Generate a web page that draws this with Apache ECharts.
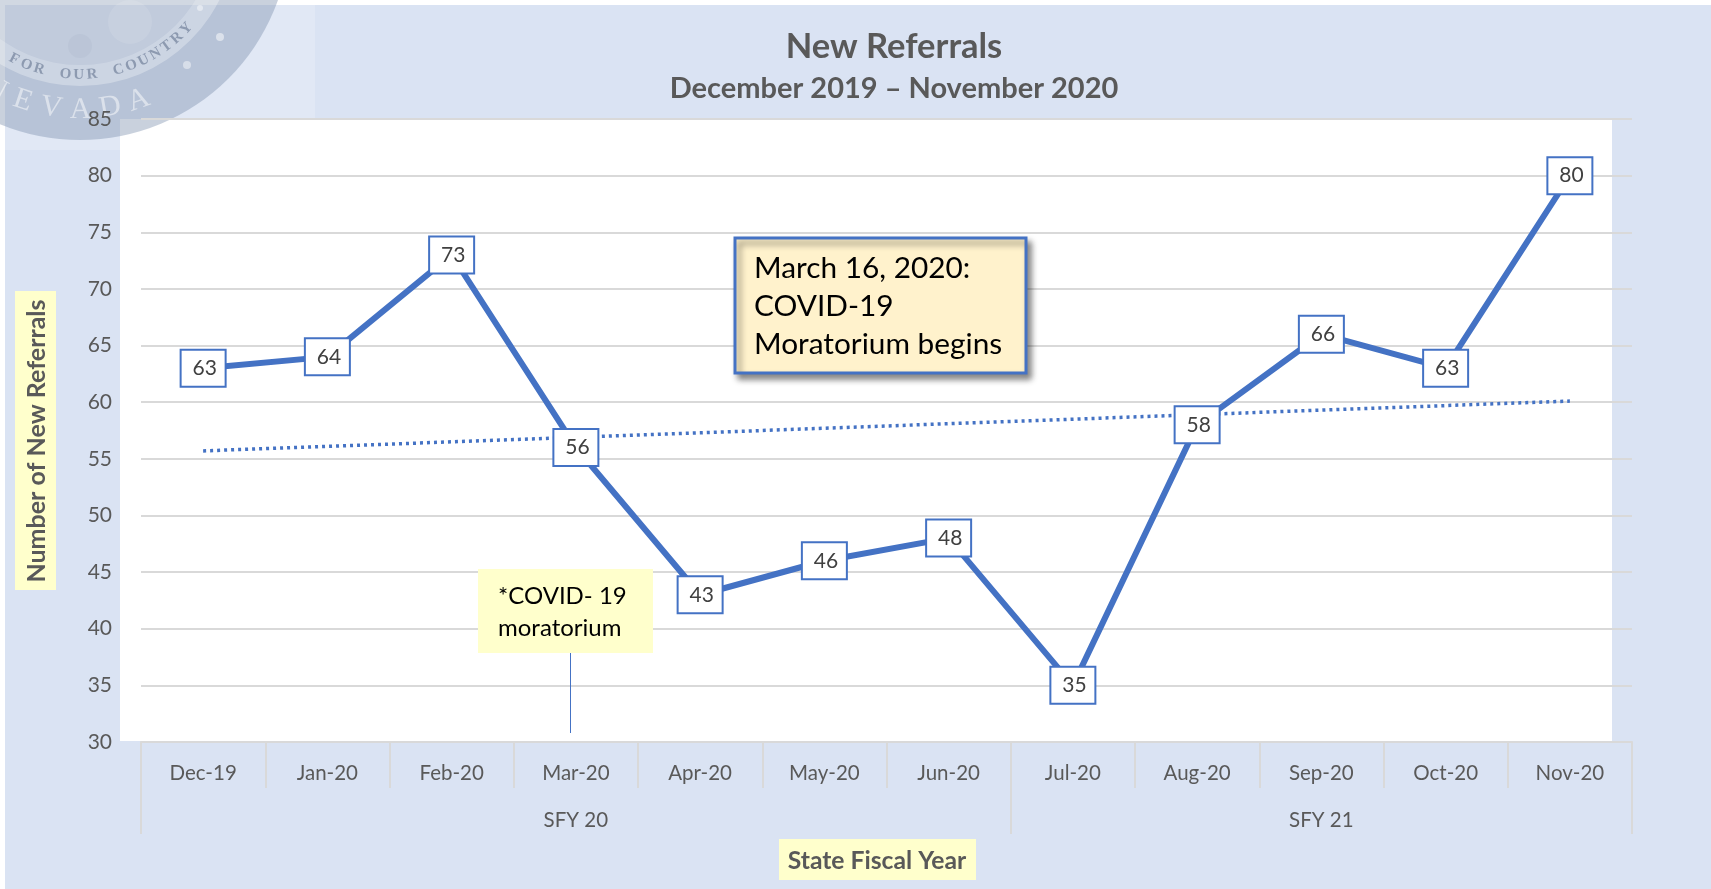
<!DOCTYPE html>
<html>
<head>
<meta charset="utf-8">
<title>New Referrals</title>
<script src="https://cdn.jsdelivr.net/npm/echarts@6/dist/echarts.min.js"></script>
<style>
  html, body { margin: 0; padding: 0; background: #fff; }
  #chart { width: 1711px; height: 889px; }
</style>
</head>
<body>
<div id="chart"></div>
<script>
const months = ['Dec-19', 'Jan-20', 'Feb-20', 'Mar-20', 'Apr-20', 'May-20', 'Jun-20', 'Jul-20', 'Aug-20', 'Sep-20', 'Oct-20', 'Nov-20']
const referrals = [63, 64, 73, 56, 43, 46, 48, 35, 58, 66, 63, 80]
const trendEnds = [55.7, 60.1]
const fiscalYears = { 3: 'SFY 20', 9: 'SFY 21' }
const fiscalYearStarts = [0, 7]

const FONT = 'Lato'
const BLUE = '#4472c4'
const GREY = '#d9d9d9'

// seal lettering round the rim
const sealCx = 80
const sealCy = -70
function rimText(str, radius, startDeg, stepDeg, font, fill) {
  return str.split('').map((ch, i) => {
    const deg = startDeg - i * stepDeg
    const rad = deg * Math.PI / 180
    return {
      type: 'text',
      z: -6,
      silent: true,
      x: sealCx + radius * Math.cos(rad),
      y: sealCy + radius * Math.sin(rad),
      rotation: (90 - deg) * Math.PI / 180,
      style: { text: ch, font: font, fill: fill, align: 'center', verticalAlign: 'middle' }
    }
  })
}

function sealDot(cx, cy, r, fill) {
  return { type: 'circle', z: -7, silent: true, shape: { cx, cy, r }, style: { fill } }
}

const chart = echarts.init(document.getElementById('chart'))

chart.setOption({
  animation: false,
  title: {
    text: 'New Referrals',
    subtext: 'December 2019 – November 2020',
    left: 889,
    top: 24,
    textAlign: 'center',
    itemGap: 10,
    textStyle: { fontFamily: FONT, fontSize: 34.5, fontWeight: 'bold', color: '#595959' },
    subtextStyle: { fontFamily: FONT, fontSize: 29, fontWeight: 'bold', color: '#595959' }
  },
  grid: { left: 141, right: 79, top: 119, bottom: 147, containLabel: false },
  xAxis: [
    {
      type: 'category',
      data: months,
      boundaryGap: true,
      axisLine: { lineStyle: { color: GREY, width: 2 } },
      axisTick: { show: true, length: 46, interval: 0, lineStyle: { color: GREY, width: 2 } },
      axisLabel: { margin: 21, interval: 0, fontFamily: FONT, fontSize: 20.5, color: '#595959' }
    },
    {
      type: 'category',
      position: 'bottom',
      data: months,
      boundaryGap: true,
      axisLine: { show: false },
      axisTick: {
        show: true,
        length: 92,
        interval: (index) => fiscalYearStarts.includes(index),
        lineStyle: { color: GREY, width: 2 }
      },
      axisLabel: {
        margin: 68,
        interval: 0,
        fontFamily: FONT,
        fontSize: 20.5,
        color: '#595959',
        formatter: (value, index) => fiscalYears[index] || ''
      }
    }
  ],
  yAxis: {
    type: 'value',
    min: 30,
    max: 85,
    interval: 5,
    axisLine: { show: false },
    axisTick: { show: false },
    axisLabel: { margin: 29, fontFamily: FONT, fontSize: 21, color: '#595959' },
    splitLine: { lineStyle: { color: GREY, width: 2 } }
  },
  series: [
    {
      name: 'Trend',
      type: 'line',
      data: months.map((m, i) => (i === 0 ? trendEnds[0] : i === months.length - 1 ? trendEnds[1] : null)),
      connectNulls: true,
      symbol: 'none',
      lineStyle: { color: BLUE, width: 3.5, type: [3, 4] },
      z: 2
    },
    {
      name: 'New Referrals',
      type: 'line',
      data: referrals,
      symbol: 'circle',
      symbolSize: 2,
      itemStyle: { color: BLUE },
      lineStyle: { color: BLUE, width: 6 },
      label: {
        show: true,
        position: 'inside',
        fontFamily: FONT,
        fontSize: 21,
        color: '#404040',
        backgroundColor: '#fff',
        borderColor: BLUE,
        borderWidth: 2,
        width: 40,
        height: 33,
        lineHeight: 33,
        padding: [2, 0, 0, 3],
        align: 'center',
        verticalAlign: 'middle'
      },
      z: 3
    }
  ],
  graphic: [
    // panel and plot backgrounds
    { type: 'rect', z: -10, silent: true, shape: { x: 5, y: 5, width: 1706, height: 884 }, style: { fill: '#dae3f3' } },
    { type: 'rect', z: -9, silent: true, shape: { x: 5, y: 5, width: 310, height: 145 }, style: { fill: '#e1e8f5' } },
    { type: 'rect', z: -8, silent: true, shape: { x: 120, y: 119, width: 1492, height: 622 }, style: { fill: '#fff' } },
    // faded seal top left
    sealDot(sealCx, sealCy, 210, 'rgba(120,140,170,0.40)'),
    sealDot(sealCx, sealCy, 135, 'rgba(255,255,255,0.14)'),
    { type: 'ring', z: -7, silent: true, shape: { cx: sealCx, cy: sealCy, r: 156, r0: 135 }, style: { fill: 'rgba(255,255,255,0.30)' } },
    sealDot(130, 22, 22, 'rgba(255,255,255,0.10)'),
    sealDot(80, 46, 12, 'rgba(110,125,160,0.07)'),
    sealDot(220, 37, 4, 'rgba(255,255,255,0.5)'),
    sealDot(187, 65, 4, 'rgba(255,255,255,0.45)'),
    sealDot(200, 8, 3, 'rgba(255,255,255,0.45)'),
    ...rimText('FOR OUR COUNTRY', 145, 117, 5.3, 'bold 15px "Liberation Serif"', 'rgba(90,105,135,0.55)'),
    ...rimText('NEVADA', 180, 118, 9.4, '30px "Liberation Serif"', 'rgba(255,255,255,0.5)'),
    // moratorium note and its leader
    { type: 'rect', z: 5, silent: true, shape: { x: 478, y: 569, width: 175, height: 84 }, style: { fill: '#ffffcc' } },
    { type: 'text', z: 6, silent: true, x: 498, y: 612, style: { text: '*COVID- 19\nmoratorium', font: '24px ' + FONT, lineHeight: 32, fill: '#000', verticalAlign: 'middle' } },
    { type: 'line', z: 5, silent: true, shape: { x1: 570.5, y1: 653, x2: 570.5, y2: 733 }, style: { stroke: BLUE, lineWidth: 1 } },
    // callout box
    {
      type: 'rect', z: 5, silent: true,
      shape: { x: 735, y: 238, width: 291, height: 135 },
      style: { fill: '#fff2cc', stroke: BLUE, lineWidth: 3, shadowBlur: 6, shadowOffsetX: 4, shadowOffsetY: 5, shadowColor: 'rgba(0,0,0,0.45)' }
    },
    { type: 'text', z: 6, silent: true, x: 754, y: 306, style: { text: 'March 16, 2020:\nCOVID-19\nMoratorium begins', font: '29.8px ' + FONT, lineHeight: 38, fill: '#000', verticalAlign: 'middle' } },
    // axis titles on their yellow tags
    { type: 'rect', z: 5, silent: true, shape: { x: 15, y: 291, width: 41, height: 299 }, style: { fill: '#ffffcc' } },
    {
      type: 'text', z: 6, silent: true, x: 37, y: 441, rotation: Math.PI / 2,
      style: { text: 'Number of New Referrals', font: 'bold 25px ' + FONT, fill: '#595959', align: 'center', verticalAlign: 'middle' }
    },
    { type: 'rect', z: 5, silent: true, shape: { x: 779, y: 839, width: 197, height: 41 }, style: { fill: '#ffffcc' } },
    {
      type: 'text', z: 6, silent: true, x: 877, y: 861,
      style: { text: 'State Fiscal Year', font: 'bold 24.7px ' + FONT, fill: '#595959', align: 'center', verticalAlign: 'middle' }
    }
  ]
})
</script>
</body>
</html>
